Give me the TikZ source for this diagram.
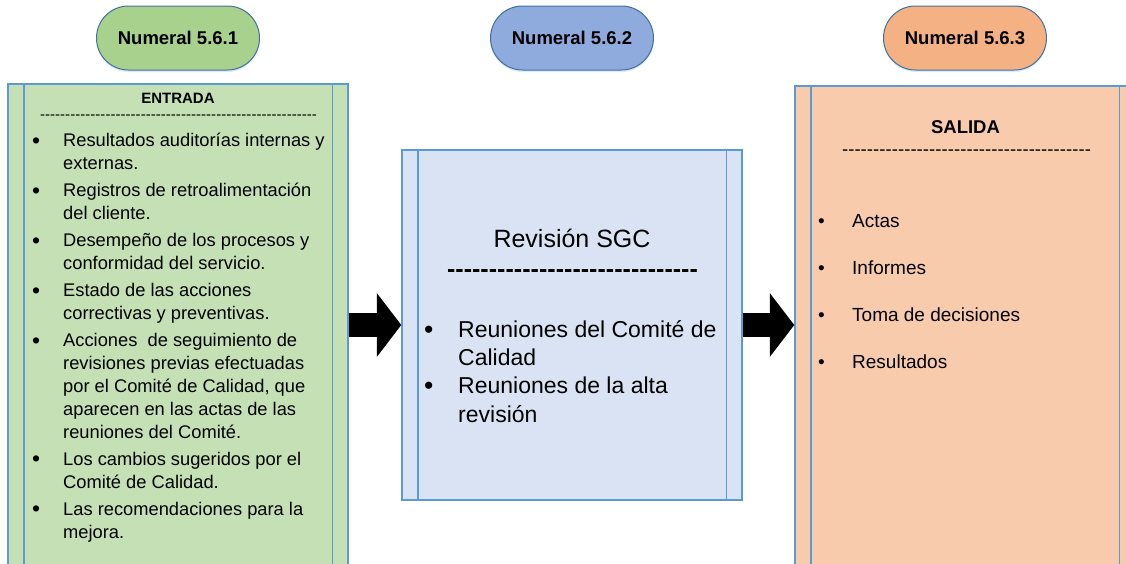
\documentclass[tikz,border=0pt]{standalone}
\usepackage{fontspec}
\setmainfont{Liberation Sans}
\usetikzlibrary{positioning,arrows.meta,shadows}

\definecolor{pillgreen}{HTML}{A9D18E}
\definecolor{pillblue}{HTML}{8FAADC}
\definecolor{pillorange}{HTML}{F4B183}
\definecolor{boxgreen}{HTML}{C5E0B4}
\definecolor{boxblue}{HTML}{DAE3F3}
\definecolor{boxorange}{HTML}{F8CBAD}
\definecolor{pillline}{HTML}{41719C}
\definecolor{boxline}{HTML}{5B9BD5}
\definecolor{glow}{HTML}{BDD7EE}

\newlength\bw
\newcommand\bulsize{1}
\newcommand\bulshift{0pt}
\newcommand\bul{\makebox[\bw][l]{\raisebox{\bulshift}{\scalebox{\bulsize}{\textbullet}}}}
\newcommand\ind{\hspace*{\bw}}
\newcommand\dashfill[1]{\hbox to #1{\xleaders\hbox{-}\hfill}}

\tikzset{
  pill/.style={draw=pillline,line width=1pt,rounded corners=32pt,minimum width=163pt,
    minimum height=64pt,font=\bfseries\fontsize{18.5}{22}\selectfont,
    drop shadow={shadow xshift=0pt,shadow yshift=-2pt,fill=glow,opacity=.5}},
  prebox/.style={draw=boxline,line width=1.5pt,minimum width=340pt},
  txt/.style={inner sep=0pt,align=left,anchor=base west},
  blockarrow/.style={line width=24pt,-{Triangle[length=24.5pt,width=64pt,line width=0pt]}}
}

\begin{document}
\begin{tikzpicture}[x=1pt,y=-1pt]
    \useasboundingbox (0,0) rectangle (1126,563);
    \node[pill,fill=pillgreen] (n1) at (178,38) {Numeral 5.6.1};
    \node[pill,fill=pillblue] (n2) at (572,38) {Numeral 5.6.2};
    \node[pill,fill=pillorange] (n3) at (965,38) {Numeral 5.6.3};

    \node[prebox,fill=boxgreen,minimum height=520pt,anchor=north] (entrada) at (178,83) {};
    \node[prebox,fill=boxblue,minimum height=350pt] (revision) at (572,325) {};
    \node[prebox,fill=boxorange,minimum height=520pt,anchor=north] (salida) at (965,85) {};
    \foreach \b in {entrada,revision,salida}{
      \draw[boxline,line width=1.5pt] ([xshift=16.5pt]\b.north west) -- ([xshift=16.5pt]\b.south west);
      \draw[boxline,line width=1.5pt] ([xshift=-16.5pt]\b.north east) -- ([xshift=-16.5pt]\b.south east);
    }

    % multi-line nodes sit on the baseline of their last line
    \node[anchor=base,inner sep=0pt,font=\bfseries\fontsize{15}{18}\selectfont] (tin) at (178,103) {ENTRADA};
    \node[anchor=base,inner sep=0pt,font=\fontsize{15}{18}\selectfont] (din) at (178.5,119) {\dashfill{277pt}};
    \node[txt,font=\fontsize{18.3}{22.8}\selectfont\setlength\bw{31pt}%
      \renewcommand\bulsize{1.25}\renewcommand\bulshift{-1.3pt}] (lin) at (32,538) {%
      \bul Resultados auditorías internas y\\
      \ind externas.\\[4.4pt]
      \bul Registros de retroalimentación\\
      \ind del cliente.\\[4.4pt]
      \bul Desempeño de los procesos y\\
      \ind conformidad del servicio.\\[4.4pt]
      \bul Estado de las acciones\\
      \ind correctivas y preventivas.\\[4.4pt]
      \bul Acciones\ \ de seguimiento de\\
      \ind revisiones previas efectuadas\\
      \ind por el Comité de Calidad, que\\
      \ind aparecen en las actas de las\\
      \ind reuniones del Comité.\\[4.4pt]
      \bul Los cambios sugeridos por el\\
      \ind Comité de Calidad.\\[4.4pt]
      \bul Las recomendaciones para la\\
      \ind mejora.};

    \node[anchor=base,inner sep=0pt,font=\fontsize{25}{30}\selectfont] (trev) at (572,247) {Revisión SGC};
    \node[anchor=base,inner sep=0pt,font=\bfseries\fontsize{25}{30}\selectfont] (drev) at (572.5,277) {\dashfill{251pt}};
    \node[txt,font=\fontsize{23}{28.3}\selectfont\setlength\bw{34pt}%
      \renewcommand\bulsize{1.15}\renewcommand\bulshift{-1.1pt}] (lrev) at (424,422) {%
      \bul Reuniones del Comité de\\
      \ind Calidad\\
      \bul Reuniones de la alta\\
      \ind revisión};

    \node[anchor=base,inner sep=0pt,font=\bfseries\fontsize{18.5}{22}\selectfont] (tout) at (965.5,133) {SALIDA};
    \node[anchor=base,inner sep=0pt,font=\fontsize{18.5}{22}\selectfont] (dout) at (966.5,155) {\dashfill{249pt}};
    \node[txt,font=\fontsize{19}{23}\selectfont\setlength\bw{34pt}] (lout) at (818,368) {%
      \bul Actas\\[23.7pt]
      \bul Informes\\[23.7pt]
      \bul Toma de decisiones\\[23.7pt]
      \bul Resultados};

    \draw[blockarrow] (entrada.east |- revision.west) -- (revision.west);
    \draw[blockarrow] (revision.east) -- (salida.west |- revision.east);
\end{tikzpicture}
\end{document}
